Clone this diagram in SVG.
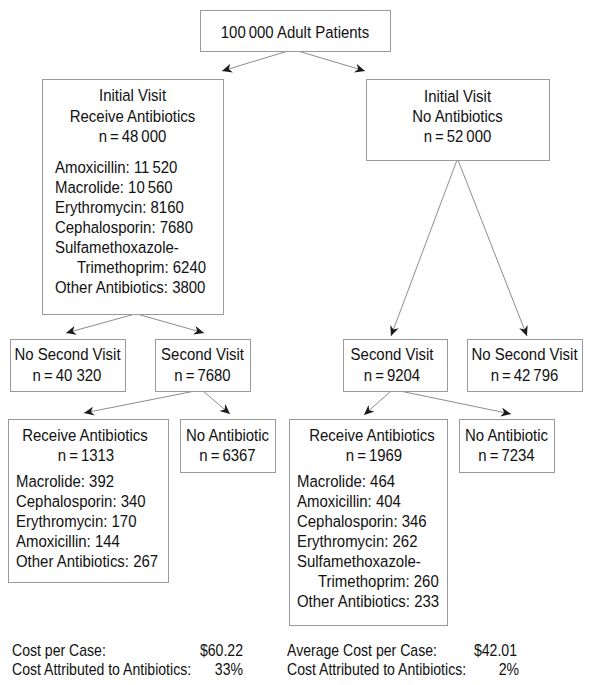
<svg xmlns="http://www.w3.org/2000/svg" width="590" height="685" viewBox="0 0 590 685">
<style>
  .box { fill: #ffffff; stroke: #9a9a9a; stroke-width: 1; }
  text { font-family: "Liberation Sans", Arial, sans-serif; font-size: 17px; fill: #111111;
         transform-box: fill-box; transform-origin: left center; transform: scaleX(0.88); }
  .c { text-anchor: middle; transform-origin: center; }
  .foot { font-size: 16px; }
  .r { text-anchor: end; transform-origin: right center; }
  .edge { stroke: #8c8c8c; stroke-width: 1; fill: none; marker-end: url(#arr); }
</style>
<defs>
  <marker id="arr" markerUnits="userSpaceOnUse" markerWidth="12" markerHeight="10" refX="10" refY="4.5" orient="auto" viewBox="0 0 12 10">
    <path d="M0,0 L10,4.5 L0,9 L3,4.5 Z" fill="#1a1a1a"/>
  </marker>
</defs>
<rect width="590" height="685" fill="#ffffff"/>

<g id="connectors">
  <line class="edge" x1="288" y1="51" x2="222" y2="71"/>
  <line class="edge" x1="298" y1="51" x2="365" y2="71"/>
  <line class="edge" x1="135" y1="314" x2="66" y2="333"/>
  <line class="edge" x1="137" y1="314" x2="204" y2="333"/>
  <line class="edge" x1="457" y1="160" x2="391" y2="336"/>
  <line class="edge" x1="458" y1="160" x2="527" y2="336"/>
  <line class="edge" x1="195" y1="391" x2="84" y2="413"/>
  <line class="edge" x1="203" y1="391" x2="230" y2="414"/>
  <line class="edge" x1="391" y1="391" x2="364" y2="415"/>
  <line class="edge" x1="400" y1="391" x2="511" y2="414"/>
</g>

<g id="root">
  <rect class="box" x="200.5" y="10.5" width="190" height="41"/>
  <text class="c" x="295" y="38">100&#8201;000 Adult Patients</text>
</g>

<g id="initial-antibiotics">
  <rect class="box" x="42.5" y="79.5" width="181" height="235"/>
  <text class="c" x="132.5" y="101">Initial Visit</text>
  <text class="c" x="132.5" y="122">Receive Antibiotics</text>
  <text class="c" x="132.5" y="142">n&#8201;=&#8201;48&#8201;000</text>
  <text x="55" y="173">Amoxicillin: 11&#8201;520</text>
  <text x="55" y="193">Macrolide: 10&#8201;560</text>
  <text x="55" y="213">Erythromycin: 8160</text>
  <text x="55" y="233">Cephalosporin: 7680</text>
  <text x="55" y="253">Sulfamethoxazole-</text>
  <text x="77" y="273">Trimethoprim: 6240</text>
  <text x="55" y="293">Other Antibiotics: 3800</text>
</g>

<g id="initial-no-antibiotics">
  <rect class="box" x="366.5" y="79.5" width="183" height="81"/>
  <text class="c" x="457.5" y="102">Initial Visit</text>
  <text class="c" x="457.5" y="122">No Antibiotics</text>
  <text class="c" x="457.5" y="142">n&#8201;=&#8201;52&#8201;000</text>
</g>

<g id="left-no-second-visit">
  <rect class="box" x="10.5" y="339.5" width="115" height="52"/>
  <text class="c" x="67.5" y="360">No Second Visit</text>
  <text class="c" x="67" y="381">n&#8201;=&#8201;40 320</text>
</g>

<g id="left-second-visit">
  <rect class="box" x="155.5" y="339.5" width="95" height="52"/>
  <text class="c" x="202.5" y="360">Second Visit</text>
  <text class="c" x="202.5" y="381">n&#8201;=&#8201;7680</text>
</g>

<g id="right-second-visit">
  <rect class="box" x="343.5" y="339.5" width="104" height="52"/>
  <text class="c" x="392" y="360">Second Visit</text>
  <text class="c" x="392" y="381">n&#8201;=&#8201;9204</text>
</g>

<g id="right-no-second-visit">
  <rect class="box" x="467.5" y="339.5" width="115" height="52"/>
  <text class="c" x="524.5" y="360">No Second Visit</text>
  <text class="c" x="524.5" y="381">n&#8201;=&#8201;42&#8201;796</text>
</g>

<g id="left-receive-antibiotics">
  <rect class="box" x="8.5" y="419.5" width="160" height="163"/>
  <text class="c" x="85" y="441">Receive Antibiotics</text>
  <text class="c" x="86" y="461">n&#8201;=&#8201;1313</text>
  <text x="16" y="487">Macrolide: 392</text>
  <text x="16" y="507">Cephalosporin: 340</text>
  <text x="16" y="527">Erythromycin: 170</text>
  <text x="16" y="547">Amoxicillin: 144</text>
  <text x="16" y="567">Other Antibiotics: 267</text>
</g>

<g id="left-no-antibiotic">
  <rect class="box" x="180.5" y="419.5" width="95" height="53"/>
  <text class="c" x="227.5" y="441">No Antibiotic</text>
  <text class="c" x="227.5" y="461">n&#8201;=&#8201;6367</text>
</g>

<g id="right-receive-antibiotics">
  <rect class="box" x="289.5" y="419.5" width="158" height="206"/>
  <text class="c" x="372" y="441">Receive Antibiotics</text>
  <text class="c" x="374" y="461">n&#8201;=&#8201;1969</text>
  <text x="297" y="487">Macrolide: 464</text>
  <text x="297" y="507">Amoxicillin: 404</text>
  <text x="297" y="527">Cephalosporin: 346</text>
  <text x="297" y="547">Erythromycin: 262</text>
  <text x="297" y="567">Sulfamethoxazole-</text>
  <text x="318" y="587">Trimethoprim: 260</text>
  <text x="297" y="607">Other Antibiotics: 233</text>
</g>

<g id="right-no-antibiotic">
  <rect class="box" x="459.5" y="419.5" width="95" height="53"/>
  <text class="c" x="506.5" y="441">No Antibiotic</text>
  <text class="c" x="506.5" y="461">n&#8201;=&#8201;7234</text>
</g>

<g id="footer-left">
  <text class="foot" x="12" y="656">Cost per Case:</text>
  <text class="foot r" x="243" y="656">$60.22</text>
  <text class="foot" x="12" y="675">Cost Attributed to Antibiotics:</text>
  <text class="foot r" x="243" y="675">33%</text>
</g>

<g id="footer-right">
  <text class="foot" x="287" y="656">Average Cost per Case:</text>
  <text class="foot r" x="517" y="656">$42.01</text>
  <text class="foot" x="287" y="675">Cost Attributed to Antibiotics:</text>
  <text class="foot r" x="519" y="675">2%</text>
</g>
</svg>
